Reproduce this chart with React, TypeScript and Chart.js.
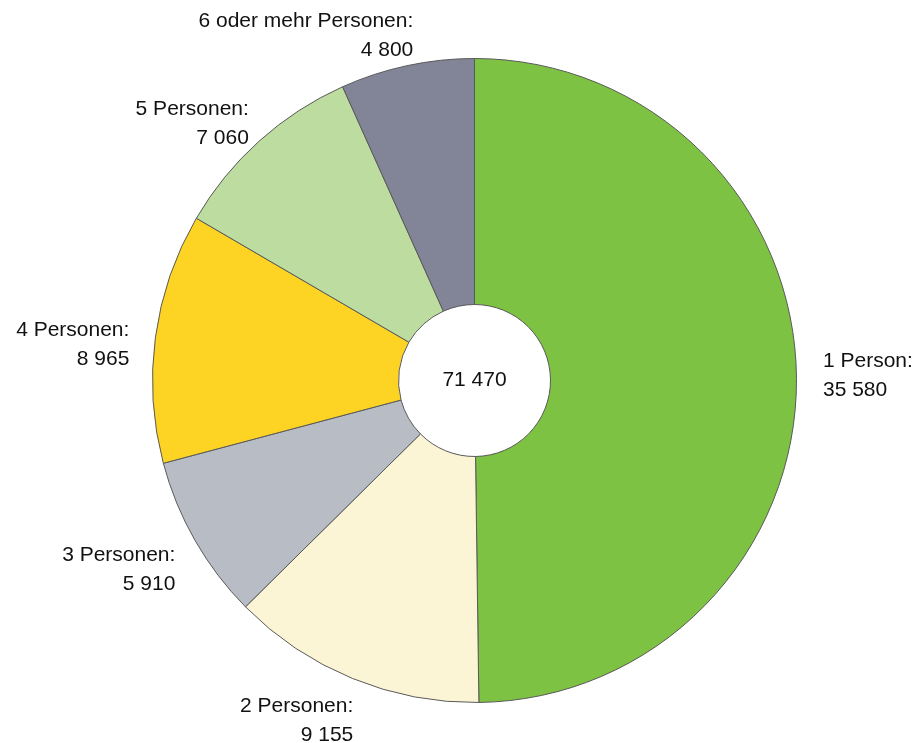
import React, { useEffect, useRef } from "react";
import { Chart, registerables } from "chart.js";

Chart.register(...registerables);

const categories = ["1 Person", "2 Personen", "3 Personen", "4 Personen", "5 Personen", "6 oder mehr Personen"];
const values = [35580, 9155, 5910, 8965, 7060, 4800];
const colors = ["#7DC242", "#FBF5D5", "#B8BCC4", "#FDD424", "#BDDDA0", "#828597"];

const FONT = "Liberation Sans, Arial, sans-serif";

function fmt(n: number): string {
  return String(n).replace(/\B(?=(\d{3})+(?!\d))/g, " ");
}

const labelPlugin = {
  id: "outerLabels",
  afterDraw(chart: any) {
    const ctx = chart.ctx;
    const meta = chart.getDatasetMeta(0);
    const data = chart.data.datasets[0].data as number[];
    const labels = chart.data.labels as string[];
    ctx.save();
    ctx.fillStyle = "#111";
    ctx.textBaseline = "middle";
    let cx = 0, cy = 0;
    meta.data.forEach((arc: any, i: number) => {
      const p = arc.getProps(["x", "y", "startAngle", "endAngle", "outerRadius"], true);
      cx = p.x; cy = p.y;
      const mid = (p.startAngle + p.endAngle) / 2;
      const dx = Math.cos(mid);
      const dy = Math.sin(mid);
      const r = p.outerRadius + 22;
      const inward = 16 * dy * dy - 4.5;
      const right = dx > 0.05;
      const ax = p.x + dx * r + (right ? -inward : inward);
      const ay = p.y + dy * r;
      const blockY = ay + 5 + 15 * dy - 7 * dx;
      ctx.font = `21px ${FONT}`;
      ctx.textAlign = right ? "left" : "right";
      ctx.fillText(labels[i] + ":", ax, blockY - 14.5);
      ctx.fillText(fmt(data[i]), ax, blockY + 14.5);
    });
    const total = data.reduce((a, b) => a + b, 0);
    ctx.font = `21px ${FONT}`;
    ctx.textAlign = "center";
    ctx.fillText(fmt(total), cx, cy);
    ctx.restore();
  },
};

export default function App() {
  const ref = useRef<HTMLCanvasElement>(null);
  useEffect(() => {
    document.body.style.margin = "0";
    if (!ref.current) return;
    const chart = new Chart(ref.current, {
      type: "doughnut",
      data: {
        labels: categories,
        datasets: [
          {
            data: values,
            backgroundColor: colors,
            borderColor: "#595959",
            borderWidth: 1,
          },
        ],
      },
      options: {
        responsive: false,
        maintainAspectRatio: false,
        animation: false,
        devicePixelRatio: 1,
        cutout: "23.6%",
        layout: { padding: { left: 152, right: 115, top: 58, bottom: 40 } },
        plugins: {
          legend: { display: false },
          tooltip: { enabled: false },
        },
      },
      plugins: [labelPlugin],
    });
    return () => chart.destroy();
  }, []);
  return (
    <div style={{ width: 912, height: 743, background: "#fff" }}>
      <canvas ref={ref} width={912} height={743} style={{ display: "block" }} />
    </div>
  );
}
